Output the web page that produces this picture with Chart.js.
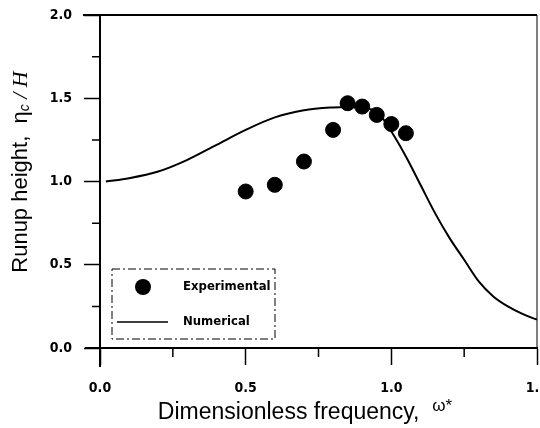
<!DOCTYPE html>
<html lang="en">
<head>
    <meta charset="UTF-8">
    <title>Runup height vs frequency</title>
    <script src="https://cdn.jsdelivr.net/npm/chart.js"></script>
    <style>
        body { margin: 0; background: #fff; overflow: hidden; }
        canvas { display: block; }
    </style>
</head>
<body>
    <canvas id="runupChart" width="540" height="428"></canvas>

    <script>
        // experimental points
        const expX = [0.50, 0.60, 0.70, 0.80, 0.85, 0.90, 0.95, 1.00, 1.05];
        const expY = [0.94, 0.98, 1.12, 1.31, 1.47, 1.45, 1.40, 1.345, 1.29];

        // numerical curve
        const numX = [0.02, 0.10, 0.20, 0.30, 0.40, 0.50, 0.60, 0.70, 0.80, 0.85, 0.90, 0.95,
                      1.00, 1.05, 1.10, 1.15, 1.20, 1.25, 1.30, 1.35, 1.40, 1.45, 1.50];
        const numY = [1.00, 1.02, 1.06, 1.13, 1.22, 1.31, 1.385, 1.428, 1.445, 1.448, 1.44, 1.42,
                      1.30, 1.15, 0.98, 0.81, 0.66, 0.53, 0.40, 0.31, 0.25, 0.205, 0.17];

        const xTicks = [0.0, 0.5, 1.0, 1.5];
        const yTicks = [0.0, 0.5, 1.0, 1.5, 2.0];

        const narrow = "'DejaVu Sans Condensed', 'Liberation Sans Narrow', 'Arial Narrow', sans-serif";
        const tickFont = { family: narrow, size: 14, weight: 'bold' };
        const isMajor = (v, list) => list.some(t => Math.abs(t - v) < 1e-6);

        // frame, minor ticks, legend and axis titles
        const decorations = {
            id: 'decorations',
            afterDraw(chart) {
                const ctx = chart.ctx;
                const a = chart.chartArea;
                const xs = chart.scales.x, ys = chart.scales.y;
                ctx.save();
                ctx.strokeStyle = '#000';

                // top line and right border
                ctx.lineWidth = 2;
                ctx.beginPath();
                ctx.moveTo(a.left - 17, a.top);
                ctx.lineTo(a.right, a.top);
                ctx.stroke();
                ctx.lineWidth = 1;
                ctx.beginPath();
                ctx.moveTo(a.right, a.top);
                ctx.lineTo(a.right, a.bottom);
                ctx.stroke();

                // axis overhang
                ctx.lineWidth = 2;
                ctx.beginPath();
                ctx.moveTo(a.left - 15, a.bottom);
                ctx.lineTo(a.left, a.bottom);
                ctx.moveTo(a.left, a.bottom);
                ctx.lineTo(a.left, a.bottom + 19);
                ctx.stroke();

                // minor ticks
                ctx.lineWidth = 1.5;
                ctx.beginPath();
                for (let v = 0.25; v < 2; v += 0.5) {
                    const py = ys.getPixelForValue(v);
                    ctx.moveTo(a.left - 8, py);
                    ctx.lineTo(a.left, py);
                }
                for (let v = 0.25; v < 1.5; v += 0.5) {
                    const px = xs.getPixelForValue(v);
                    ctx.moveTo(px, a.bottom);
                    ctx.lineTo(px, a.bottom + 9);
                }
                ctx.stroke();

                // legend box
                const lx = a.left + 12, ly = a.top + 254, lw = 163, lh = 70;
                ctx.lineWidth = 1;
                ctx.setLineDash([8, 3, 2, 3]);
                ctx.strokeRect(lx, ly, lw, lh);
                ctx.setLineDash([]);
                const ds = chart.data.datasets;
                ctx.fillStyle = '#000';
                ctx.beginPath();
                ctx.arc(lx + 31, ly + 18, 8, 0, Math.PI * 2);
                ctx.fill();
                ctx.lineWidth = 1.5;
                ctx.beginPath();
                ctx.moveTo(lx + 5, ly + 53);
                ctx.lineTo(lx + 56, ly + 53);
                ctx.stroke();
                ctx.font = "bold 13px " + narrow;
                ctx.textBaseline = 'middle';
                ctx.textAlign = 'left';
                ctx.fillText(ds[0].label, lx + 71, ly + 18);
                ctx.fillText(ds[1].label, lx + 71, ly + 53);

                // x title
                const big = "22px 'Liberation Sans', Arial, sans-serif";
                const xBig = "23px 'Liberation Sans', Arial, sans-serif";
                const small = "17px 'Liberation Sans', Arial, sans-serif";
                const xt = 'Dimensionless frequency,  ';
                ctx.font = xBig;
                const w1 = ctx.measureText(xt).width;
                ctx.font = small;
                const w2 = ctx.measureText('\u03c9*').width;
                let tx = 305 - (w1 + w2) / 2;
                ctx.textBaseline = 'alphabetic';
                ctx.font = xBig;
                ctx.fillText(xt, tx, 419);
                ctx.font = small;
                ctx.fillText('\u03c9*', tx + w1, 411);

                // y title, rotated
                ctx.save();
                ctx.translate(27, 172);
                ctx.rotate(-Math.PI / 2);
                const parts = [
                    { t: 'Runup height,  ', f: big, dy: 0 },
                    { t: '\u03b7', f: big, dy: 0 },
                    { t: 'c', f: "italic 14px 'Liberation Sans', Arial, sans-serif", dy: 2 },
                    { t: ' / ', f: "italic 22px 'Liberation Serif', serif", dy: 0 },
                    { t: 'H', f: "italic 22px 'Liberation Serif', serif", dy: 0 }
                ];
                let total = 0;
                parts.forEach(p => { ctx.font = p.f; p.w = ctx.measureText(p.t).width; total += p.w; });
                let px = -total / 2;
                parts.forEach(p => {
                    ctx.font = p.f;
                    ctx.fillText(p.t, px, p.dy);
                    px += p.w;
                });
                ctx.restore();

                ctx.restore();
            }
        };

        const ctx = document.getElementById('runupChart').getContext('2d');
        const runupChart = new Chart(ctx, {
            data: {
                datasets: [
                    {
                        type: 'scatter',
                        label: 'Experimental',
                        data: expX.map((x, i) => ({ x: x, y: expY[i] })),
                        backgroundColor: '#000',
                        borderColor: '#000',
                        pointRadius: 7.5,
                        pointHoverRadius: 7.5,
                        order: 0
                    },
                    {
                        type: 'line',
                        label: 'Numerical',
                        data: numX.map((x, i) => ({ x: x, y: numY[i] })),
                        borderColor: '#000',
                        borderWidth: 2,
                        pointRadius: 0,
                        cubicInterpolationMode: 'monotone',
                        fill: false,
                        order: 1
                    }
                ]
            },
            options: {
                responsive: false,
                animation: false,
                events: [],
                layout: { autoPadding: false, padding: { left: 0, top: 15, right: 3, bottom: 0 } },
                plugins: {
                    legend: { display: false },
                    tooltip: { enabled: false }
                },
                scales: {
                    x: {
                        type: 'linear',
                        min: 0,
                        max: 1.5,
                        afterFit(scale) {
                            scale.height = 80;
                            scale.paddingLeft = 0;
                            scale.paddingRight = 0;
                        },
                        border: { display: true, color: '#000', width: 2 },
                        grid: {
                            drawOnChartArea: false,
                            tickLength: 17,
                            tickWidth: 1.5,
                            tickColor: c => isMajor(c.tick.value, xTicks) ? '#000' : 'rgba(0,0,0,0)'
                        },
                        ticks: {
                            stepSize: 0.25,
                            autoSkip: false,
                            maxRotation: 0,
                            padding: 15,
                            color: '#000',
                            font: tickFont,
                            callback: v => isMajor(v, xTicks) ? v.toFixed(1) : ''
                        }
                    },
                    y: {
                        type: 'linear',
                        min: 0,
                        max: 2,
                        afterFit(scale) {
                            scale.width = 100;
                            scale.paddingTop = 0;
                            scale.paddingBottom = 0;
                        },
                        border: { display: true, color: '#000', width: 2 },
                        grid: {
                            drawOnChartArea: false,
                            tickLength: 16,
                            tickWidth: 1.5,
                            tickColor: c => isMajor(c.tick.value, yTicks) ? '#000' : 'rgba(0,0,0,0)'
                        },
                        ticks: {
                            stepSize: 0.25,
                            autoSkip: false,
                            padding: 12,
                            color: '#000',
                            font: tickFont,
                            callback: v => isMajor(v, yTicks) ? v.toFixed(1) : ''
                        }
                    }
                }
            },
            plugins: [decorations]
        });
    </script>
</body>
</html>
